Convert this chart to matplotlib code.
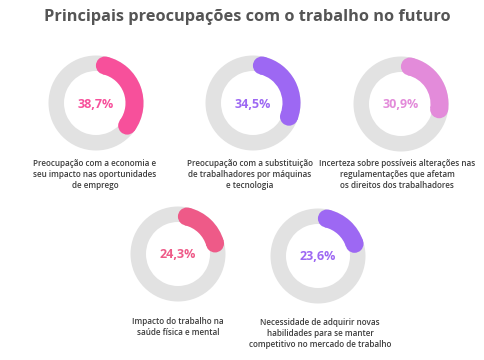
import matplotlib.pyplot as plt
from matplotlib.patches import Wedge, Circle
import numpy as np

plt.rcParams['font.family'] = ['Open Sans', 'DejaVu Sans']

titulo = 'Principais preocupações com o trabalho no futuro'
valores = [38.7, 34.5, 30.9, 24.3, 23.6]
rotulos = [
    'Preocupação com a economia e\nseu impacto nas oportunidades\nde emprego',
    'Preocupação com a substituição\nde trabalhadores por máquinas\ne tecnologia',
    'Incerteza sobre possíveis alterações nas\nregulamentações que afetam\nos direitos dos trabalhadores',
    'Impacto do trabalho na\nsaúde física e mental',
    'Necessidade de adquirir novas\nhabilidades para se manter\ncompetitivo no mercado de trabalho',
]
cores = ['#F7509B', '#9D68F3', '#E38BDA', '#EE5A88', '#9D68F3']

# layout in pixel coords
centros = [(96, 103), (253, 103), (401, 104), (178, 254), (318, 256)]
pos_rotulos = [(95, 159), (250, 159), (397, 159), (178, 317), (320, 318)]
R_OUT, R_IN, R_IN_COR = 47.5, 32, 29.5
CINZA = '#E2E2E2'

fig = plt.figure(figsize=(4.85, 3.6), dpi=100)
ax = fig.add_axes([0, 0, 1, 1])
ax.set_xlim(0, 485)
ax.set_ylim(360, 0)
ax.set_aspect('equal')
ax.axis('off')

ax.text(247, 17, titulo, ha='center', va='center', fontsize=11.75,
        fontweight='bold', color='#555555')

w = R_OUT - R_IN_COR
rm = (R_OUT + R_IN_COR) / 2
delta = np.rad2deg((w / 2) / rm)
for (cx, cy), (lx, ly), v, lab, c in zip(centros, pos_rotulos, valores, rotulos, cores):
    # y axis is inverted, so increasing angle runs clockwise on screen
    ax.add_patch(Wedge((cx, cy), R_OUT, 0, 360, width=R_OUT - R_IN,
                       facecolor=CINZA, edgecolor='none'))
    a0 = -90 + delta
    a1 = -90 + v / 100 * 360 - delta
    ax.add_patch(Wedge((cx, cy), R_OUT, a0, a1, width=w, facecolor=c, edgecolor='none'))
    for a in (a0, a1):
        t = np.deg2rad(a)
        ax.add_patch(Circle((cx + rm * np.cos(t), cy + rm * np.sin(t)), w / 2,
                            facecolor=c, edgecolor='none'))
    ax.text(cx, cy + 1, f'{v:.1f}%'.replace('.', ','), ha='center', va='center',
            fontsize=9, fontweight='bold', color=c)
    ax.text(lx, ly, lab, ha='center', va='top', fontsize=5.9,
            color='#3d3d3d', linespacing=1.3, fontweight='semibold')

fig.savefig('out.png', dpi=100, facecolor='white')
